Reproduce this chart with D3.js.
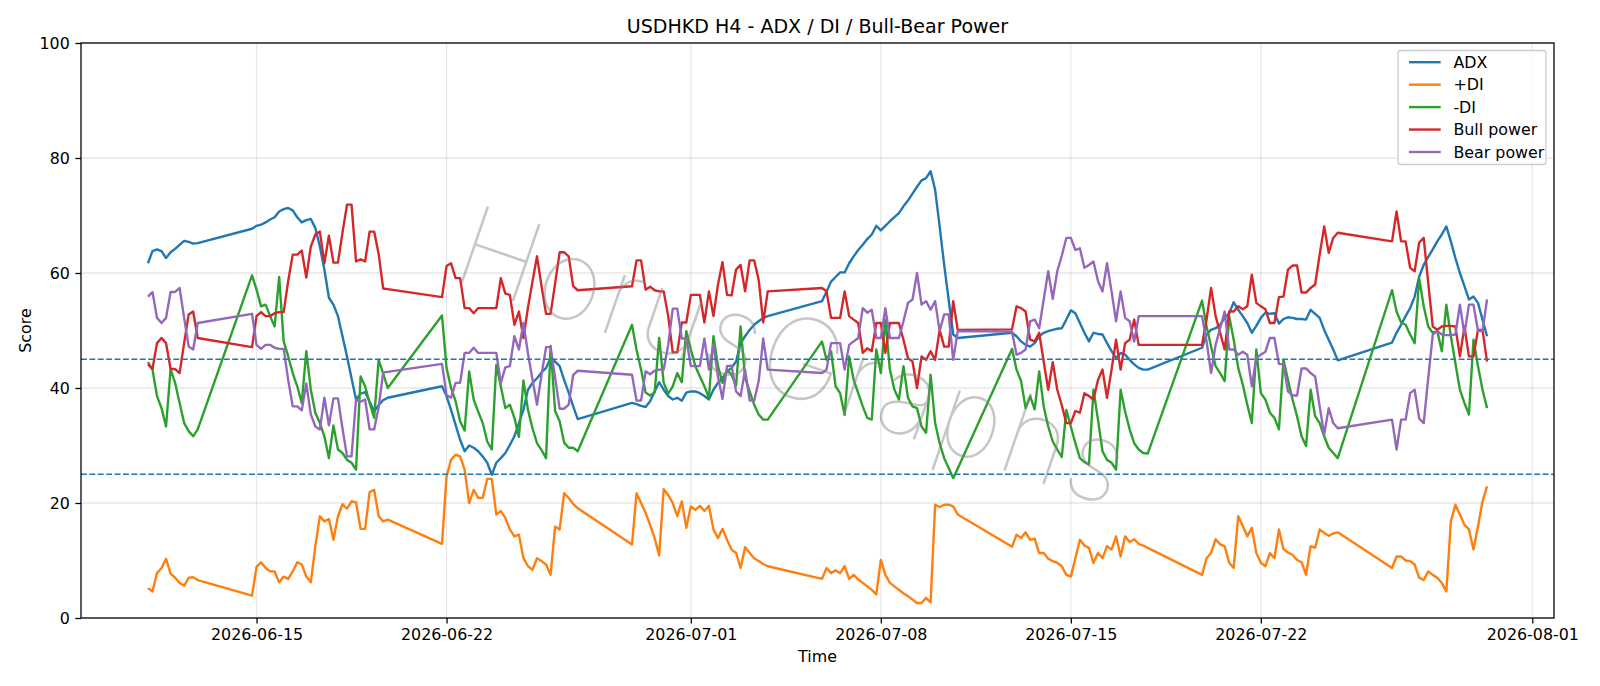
<!DOCTYPE html>
<html>
<head>
<meta charset="utf-8">
<script src="https://cdn.jsdelivr.net/npm/d3@7"></script>
<style>
  html, body { margin: 0; padding: 0; background: #fff; }
  svg { display: block; font-family: "DejaVu Sans", sans-serif; }
</style>
</head>
<body>
<svg id="chart"></svg>
<script>
// H4 trading sessions: first bar (UTC) and number of 4h bars
const sessions = [
  ["2026-06-11T00:00:00Z", 12],
  ["2026-06-14T20:00:00Z", 31],
  ["2026-06-21T20:00:00Z", 31],
  ["2026-06-28T20:00:00Z", 31],
  ["2026-07-05T20:00:00Z", 31],
  ["2026-07-12T20:00:00Z", 31],
  ["2026-07-19T20:00:00Z", 31],
  ["2026-07-26T20:00:00Z", 22]
]

const xTicks = ["2026-06-15", "2026-06-22", "2026-07-01", "2026-07-08", "2026-07-15", "2026-07-22", "2026-08-01"]
const yTicks = [0, 20, 40, 60, 80, 100]
const levels = [25, 45]

const adx = [
  61.7, 63.8, 64.1, 63.8, 62.6, 63.6, 64.2, 64.9, 65.6, 65.4, 65.1, 65.2,
  67.7, 68.2, 68.4, 68.8, 69.3, 69.7, 70.7, 71.1, 71.3, 70.9, 69.7, 68.8, 69.2, 69.4, 67.8, 64.6, 60.6, 55.7, 54.5, 52.5, 49.0, 45.5, 41.7, 38.0, 39.0, 39.3, 37.6, 36.0, 37.0, 37.9, 38.3,
  40.3, 38.6, 36.2, 33.6, 31.0, 29.0, 30.0, 29.6, 29.0, 28.1, 27.0, 24.9, 27.0, 27.8, 28.7, 30.1, 31.6, 33.9, 36.2, 39.7, 40.9, 41.7, 42.7, 43.5, 45.2, 44.6, 43.8, 41.4, 39.2, 36.8, 34.6,
  37.4, 37.2, 36.9, 36.7, 37.7, 39.4, 41.0, 39.7, 38.6, 38.0, 38.3, 37.8, 39.2, 39.4, 39.4, 39.1, 38.6, 38.0, 39.7, 40.9, 41.7, 42.9, 43.5, 44.6, 47.8, 49.0, 50.1, 51.0, 51.6, 52.2, 52.5,
  55.1, 56.8, 58.5, 59.3, 60.1, 60.1, 61.7, 62.9, 64.0, 64.9, 65.9, 66.7, 68.2, 67.4, 68.2, 69.0, 69.7, 70.4, 71.6, 72.6, 73.8, 75.0, 76.1, 76.5, 77.7, 74.5, 68.1, 61.4, 55.3, 49.3, 48.7,
  49.6, 49.0, 48.1, 47.5, 47.2, 47.8, 49.0, 49.6, 49.9, 50.1, 50.3, 50.4, 51.9, 53.5, 53.0, 51.3, 49.6, 48.1, 49.6, 49.4, 49.3, 47.8, 46.4, 45.2, 46.1, 45.8, 44.9, 44.1, 43.5, 43.2, 43.2,
  47.0, 49.3, 50.1, 50.4, 51.0, 52.2, 53.0, 54.9, 53.6, 52.5, 51.3, 49.6, 50.8, 52.2, 53.1, 52.9, 53.0, 51.2, 52.0, 52.3, 52.2, 52.0, 52.0, 51.9, 53.6, 52.9, 52.2, 50.1, 48.4, 46.7, 44.8,
  47.9, 49.6, 51.0, 52.5, 53.9, 55.9, 59.4, 61.4, 62.8, 64.1, 65.5, 66.7, 68.1, 65.5, 62.6, 60.0, 57.7, 55.4, 55.9, 54.8, 51.9, 49.0
]

const plusDI = [
  5.2, 4.6, 7.8, 8.7, 10.3, 7.7, 7.0, 6.1, 5.6, 7.0, 7.1, 6.6,
  3.9, 8.9, 9.7, 8.7, 8.1, 8.1, 6.2, 7.2, 6.8, 8.1, 9.7, 9.3, 7.2, 6.2, 12.5, 17.7, 16.8, 17.2, 13.6, 17.7, 19.8, 19.0, 20.3, 20.1, 15.5, 15.5, 21.9, 22.3, 17.7, 16.8, 17.1,
  12.9, 24.6, 27.5, 28.4, 28.1, 25.8, 20.0, 22.3, 20.9, 20.9, 24.2, 24.2, 18.0, 18.6, 17.4, 15.4, 14.2, 14.5, 10.4, 9.0, 8.4, 10.4, 9.9, 9.3, 7.5, 15.9, 15.4, 21.7, 20.9, 19.8, 19.1,
  12.8, 21.7, 20.0, 18.3, 16.2, 13.9, 10.9, 22.4, 21.4, 20.0, 17.7, 20.3, 15.7, 19.4, 18.8, 19.5, 18.6, 19.5, 15.4, 13.9, 15.5, 13.6, 11.9, 11.3, 8.7, 12.3, 11.3, 10.4, 9.9, 9.4, 9.0,
  6.8, 8.7, 7.8, 8.3, 7.8, 9.0, 6.8, 7.5, 6.7, 6.1, 5.5, 4.9, 4.1, 10.1, 7.5, 6.1, 5.5, 4.9, 4.3, 3.8, 3.2, 2.6, 2.6, 3.5, 2.7, 19.7, 19.3, 19.7, 19.7, 19.4, 18.0,
  12.4, 14.5, 13.9, 14.9, 13.6, 13.8, 11.3, 11.3, 10.3, 9.9, 9.6, 9.0, 7.5, 7.2, 10.4, 13.6, 12.6, 12.2, 9.6, 11.3, 10.4, 12.5, 11.9, 14.2, 10.7, 14.2, 13.2, 13.7, 12.9, 12.6, 12.2,
  7.5, 10.4, 11.3, 13.7, 12.8, 12.5, 9.6, 8.7, 17.7, 16.0, 14.2, 15.7, 11.3, 9.6, 9.0, 11.3, 10.4, 15.4, 12.0, 11.4, 11.0, 10.1, 9.7, 7.5, 12.5, 12.2, 15.4, 14.8, 14.3, 14.7, 14.9,
  8.7, 10.7, 10.7, 10.0, 9.9, 9.3, 7.0, 6.6, 8.1, 7.5, 7.0, 6.1, 4.6, 16.8, 19.7, 18.0, 16.2, 15.4, 11.9, 15.9, 20.3, 22.9
]

const minusDI = [
  44.5, 43.2, 38.6, 36.5, 33.3, 43.3, 40.9, 37.4, 33.9, 32.5, 31.6, 32.8,
  59.6, 57.1, 54.2, 54.5, 52.5, 50.7, 59.3, 48.1, 45.5, 42.6, 40.3, 37.4, 46.4, 39.7, 35.7, 33.9, 31.6, 27.8, 33.5, 29.3, 28.7, 27.5, 27.0, 25.8, 42.0, 40.3, 37.4, 34.8, 44.9, 42.5, 40.0,
  52.6, 43.5, 40.0, 37.7, 34.2, 32.6, 42.9, 38.0, 35.9, 33.9, 30.7, 29.3, 44.0, 40.3, 36.5, 37.1, 34.8, 31.5, 41.3, 36.2, 33.0, 30.4, 29.2, 27.8, 47.3, 36.0, 34.2, 30.5, 29.6, 29.6, 29.0,
  51.0, 46.6, 43.2, 39.2, 38.7, 39.2, 48.7, 40.9, 39.0, 40.3, 42.6, 41.0, 49.9, 46.7, 43.8, 42.0, 40.3, 38.3, 49.0, 43.8, 40.9, 43.2, 42.3, 40.4, 50.7, 41.7, 39.4, 37.1, 35.4, 34.5, 34.5,
  48.1, 44.9, 46.4, 40.3, 39.1, 35.3, 45.5, 41.4, 39.1, 36.8, 34.8, 34.5, 46.7, 42.6, 51.9, 43.2, 39.7, 38.0, 43.8, 38.3, 36.8, 36.5, 33.3, 32.2, 42.3, 33.9, 30.4, 27.8, 26.1, 24.3, 26.0,
  46.8, 43.2, 41.2, 36.5, 38.6, 36.3, 42.9, 36.8, 33.3, 30.7, 29.3, 28.0, 36.2, 33.3, 30.4, 27.8, 27.1, 26.7, 39.7, 34.5, 29.0, 27.5, 27.0, 25.8, 39.7, 35.9, 32.8, 30.4, 29.3, 28.7, 28.6,
  55.2, 50.7, 47.2, 43.8, 42.6, 41.2, 52.5, 48.4, 43.5, 40.6, 37.1, 33.9, 46.7, 39.1, 38.0, 35.7, 34.8, 32.8, 44.9, 41.4, 38.0, 35.1, 31.6, 29.9, 39.7, 35.1, 33.9, 31.6, 29.6, 28.7, 27.8,
  57.0, 53.3, 51.4, 51.0, 49.3, 47.8, 59.1, 54.2, 50.7, 49.6, 49.9, 46.4, 54.5, 49.0, 44.3, 39.7, 37.4, 35.4, 48.4, 43.8, 39.7, 36.5
]

const bullPower = [
  44.1, 43.3, 47.8, 48.7, 47.8, 43.3, 43.3, 42.6, 47.8, 52.8, 53.3, 48.7,
  47.1, 52.5, 53.2, 52.5, 52.5, 53.0, 53.2, 53.2, 58.6, 63.2, 63.2, 63.9, 59.2, 64.6, 66.7, 67.2, 61.7, 66.5, 61.8, 61.8, 67.0, 71.9, 71.9, 62.0, 62.4, 62.0, 67.2, 67.2, 63.3, 57.3, 57.2,
  55.8, 61.2, 61.7, 59.1, 59.1, 53.9, 53.9, 53.0, 53.9, 53.9, 53.9, 53.9, 53.9, 59.1, 56.4, 56.2, 51.0, 53.3, 48.7, 54.0, 58.5, 62.9, 57.7, 52.9, 52.9, 58.2, 63.6, 63.6, 62.9, 57.7, 57.0,
  57.7, 62.2, 62.2, 57.1, 57.6, 57.0, 56.8, 56.8, 52.5, 46.2, 46.2, 51.4, 51.4, 56.2, 56.2, 56.2, 51.4, 56.8, 52.5, 58.0, 61.9, 56.2, 56.1, 60.6, 61.4, 56.8, 62.2, 62.2, 58.8, 51.4, 56.8,
  57.4, 56.8, 52.2, 52.2, 52.2, 56.8, 52.5, 51.9, 51.3, 46.1, 46.9, 46.4, 51.3, 51.3, 46.1, 51.3, 51.3, 51.3, 48.4, 45.2, 44.6, 40.0, 45.5, 44.9, 46.4, 44.9, 50.1, 47.2, 47.2, 55.1, 50.1,
  50.2, 54.2, 53.9, 53.3, 48.4, 48.1, 49.6, 44.6, 39.7, 44.5, 39.7, 37.0, 33.9, 33.9, 36.0, 35.7, 39.1, 38.6, 38.0, 41.4, 43.2, 38.3, 43.2, 48.4, 43.2, 47.8, 48.4, 51.9, 47.5, 47.5, 47.5,
  47.5, 51.9, 57.4, 52.5, 49.6, 46.7, 53.3, 53.3, 54.2, 53.7, 54.2, 59.7, 54.8, 54.2, 53.7, 51.3, 51.3, 55.8, 55.9, 60.6, 61.3, 61.3, 56.6, 56.6, 57.4, 58.0, 63.2, 68.1, 63.5, 66.1, 67.0,
  65.5, 70.7, 65.5, 65.5, 60.9, 60.3, 65.3, 66.1, 58.3, 50.7, 50.1, 50.7, 50.8, 50.8, 50.7, 45.5, 50.7, 45.5, 45.5, 50.1, 50.1, 44.6
]

const bearPower = [
  55.9, 56.7, 52.2, 51.3, 52.2, 56.7, 56.7, 57.4, 52.2, 47.2, 46.7, 51.3,
  52.9, 47.5, 46.8, 47.5, 47.5, 47.0, 46.8, 46.8, 41.4, 36.8, 36.8, 36.1, 40.8, 35.4, 33.3, 32.8, 38.3, 33.5, 38.2, 38.2, 33.0, 28.1, 28.1, 38.0, 37.6, 38.0, 32.8, 32.8, 36.7, 42.7, 42.8,
  44.2, 38.8, 38.3, 40.9, 40.9, 46.1, 46.1, 47.0, 46.1, 46.1, 46.1, 46.1, 46.1, 40.9, 43.6, 43.8, 49.0, 46.7, 51.3, 46.0, 41.5, 37.1, 42.3, 47.1, 47.1, 41.8, 36.4, 36.4, 37.1, 42.3, 43.0,
  42.3, 37.8, 37.8, 42.9, 42.4, 43.0, 43.2, 43.2, 47.5, 53.8, 53.8, 48.6, 48.6, 43.8, 43.8, 43.8, 48.6, 43.2, 47.5, 42.0, 38.1, 43.8, 43.9, 39.4, 38.6, 43.2, 37.8, 37.8, 41.2, 48.6, 43.2,
  42.6, 43.2, 47.8, 47.8, 47.8, 43.2, 47.5, 48.1, 48.7, 53.9, 53.1, 53.6, 48.7, 48.7, 53.9, 48.7, 48.7, 48.7, 51.6, 54.8, 55.4, 60.0, 54.5, 55.1, 53.6, 55.1, 49.9, 52.8, 52.8, 44.9, 49.9,
  49.8, 45.8, 46.1, 46.7, 51.6, 51.9, 50.4, 55.4, 60.3, 55.5, 60.3, 63.0, 66.1, 66.1, 64.0, 64.3, 60.9, 61.4, 62.0, 58.6, 56.8, 61.7, 56.8, 51.6, 56.8, 52.2, 51.6, 48.1, 52.5, 52.5, 52.5,
  52.5, 48.1, 42.6, 47.5, 50.4, 53.3, 46.7, 46.7, 45.8, 46.3, 45.8, 40.3, 45.2, 45.8, 46.3, 48.7, 48.7, 44.2, 44.1, 39.4, 38.7, 38.7, 43.4, 43.4, 42.6, 42.0, 36.8, 31.9, 36.5, 33.9, 33.0,
  34.5, 29.3, 34.5, 34.5, 39.1, 39.7, 34.7, 33.9, 41.7, 49.3, 49.9, 49.3, 49.2, 49.2, 49.3, 54.5, 49.3, 54.5, 54.5, 49.9, 49.9, 55.4
]

const series = [
  { name: 'ADX', values: adx, color: '#1f77b4' },
  { name: '+DI', values: plusDI, color: '#ff7f0e' },
  { name: '-DI', values: minusDI, color: '#2ca02c' },
  { name: 'Bull power', values: bullPower, color: '#d62728' },
  { name: 'Bear power', values: bearPower, color: '#9467bd' }
]

// expand sessions into bar times
const times = []
sessions.forEach(([start, n]) => {
  const t0 = Date.parse(start)
  for (let i = 0; i < n; i++) times.push(new Date(t0 + i * 4 * 3600 * 1000))
})

const width = 1600
const height = 686
const margin = { left: 81, right: 1554, top: 43, bottom: 618 }
const fs = 15.87

const svg = d3.select('#chart')
    .attr('width', width)
    .attr('height', height)

// matplotlib style 5% padding on x
const tMin = +times[0], tMax = +times[times.length - 1]
const pad = (tMax - tMin) * 0.05
const x = d3.scaleUtc()
    .domain([new Date(tMin - pad), new Date(tMax + pad)])
    .range([margin.left, margin.right])
const y = d3.scaleLinear()
    .domain([0, 100])
    .range([margin.bottom, margin.top])

const tickDates = xTicks.map(d => new Date(d + 'T00:00:00Z'))

// grid
const grid = svg.append('g')
grid.selectAll('.gx').data(tickDates).enter().append('line')
    .attr('x1', d => x(d)).attr('x2', d => x(d))
    .attr('y1', margin.top).attr('y2', margin.bottom)
    .attr('stroke', '#b0b0b0').attr('stroke-opacity', 0.3).attr('stroke-width', 1.27)
grid.selectAll('.gy').data(yTicks).enter().append('line')
    .attr('x1', margin.left).attr('x2', margin.right)
    .attr('y1', d => y(d)).attr('y2', d => y(d))
    .attr('stroke', '#b0b0b0').attr('stroke-opacity', 0.3).attr('stroke-width', 1.27)

// series
const line = d3.line()
    .x((d, i) => x(times[i]))
    .y(d => y(d))

svg.append('g').selectAll('path')
    .data(series)
    .enter()
    .append('path')
    .attr('d', d => line(d.values))
    .attr('fill', 'none')
    .attr('stroke', d => d.color)
    .attr('stroke-width', 2.38)
    .attr('stroke-linejoin', 'round')
    .attr('stroke-linecap', 'butt')

// threshold lines
svg.append('g').selectAll('line')
    .data(levels)
    .enter()
    .append('line')
    .attr('x1', margin.left).attr('x2', margin.right)
    .attr('y1', d => y(d)).attr('y2', d => y(d))
    .attr('stroke', '#1f77b4')
    .attr('stroke-width', 1.59)
    .attr('stroke-dasharray', '5.9,2.5')

// spines
svg.append('rect')
    .attr('x', margin.left).attr('y', margin.top)
    .attr('width', margin.right - margin.left)
    .attr('height', margin.bottom - margin.top)
    .attr('fill', 'none').attr('stroke', '#000').attr('stroke-width', 1.27)

// axes
const xAxis = svg.append('g')
    .attr('transform', `translate(0,${margin.bottom})`)
    .call(d3.axisBottom(x).tickValues(tickDates).tickFormat(d3.utcFormat('%Y-%m-%d')).tickSize(5.6).tickPadding(5.6))
const yAxis = svg.append('g')
    .attr('transform', `translate(${margin.left},0)`)
    .call(d3.axisLeft(y).tickValues(yTicks).tickSize(5.6).tickPadding(5.6))

;[xAxis, yAxis].forEach(a => {
  a.select('.domain').remove()
  a.selectAll('.tick line').attr('stroke', '#000').attr('stroke-width', 1.27)
  a.selectAll('.tick text')
      .attr('fill', '#000')
      .style('font-family', '"DejaVu Sans"')
      .style('font-size', fs + 'px')
})

// labels
svg.append('text')
    .attr('x', (margin.left + margin.right) / 2)
    .attr('y', 32.5)
    .attr('text-anchor', 'middle')
    .style('font-size', '19.05px')
    .text('USDHKD H4 - ADX / DI / Bull-Bear Power')

svg.append('text')
    .attr('x', (margin.left + margin.right) / 2)
    .attr('y', 662)
    .attr('text-anchor', 'middle')
    .style('font-size', fs + 'px')
    .text('Time')

svg.append('text')
    .attr('transform', `translate(31,${(margin.top + margin.bottom) / 2}) rotate(-90)`)
    .attr('text-anchor', 'middle')
    .style('font-size', fs + 'px')
    .text('Score')

// legend
const lg = svg.append('g')
lg.append('rect')
    .attr('x', 1398).attr('y', 50.5)
    .attr('width', 148).attr('height', 114)
    .attr('rx', 3)
    .attr('fill', '#fff').attr('fill-opacity', 0.8)
    .attr('stroke', '#cccccc').attr('stroke-width', 1.27)
const items = lg.selectAll('.item')
    .data(series)
    .enter()
    .append('g')
    .attr('transform', (d, i) => `translate(1409,${62.2 + i * 22.45})`)
items.append('line')
    .attr('x1', 0).attr('x2', 31.7)
    .attr('stroke', d => d.color)
    .attr('stroke-width', 2.38)
items.append('text')
    .attr('x', 44.4)
    .attr('dy', '0.35em')
    .style('font-size', fs + 'px')
    .text(d => d.name)

// watermark, thin grey letters across the plot
svg.append('text')
    .attr('transform', 'translate(792,356) rotate(19)')
    .attr('text-anchor', 'middle')
    .attr('dy', '0.35em')
    .attr('textLength', 700)
    .attr('lengthAdjust', 'spacing')
    .style('font-family', 'Inter, "Noto Sans", sans-serif')
    .style('font-size', '112px')
    .style('font-weight', 100)
    .attr('fill', '#808080')
    .attr('fill-opacity', 0.45)
    .text('HorusGraphs')
</script>
</body>
</html>
